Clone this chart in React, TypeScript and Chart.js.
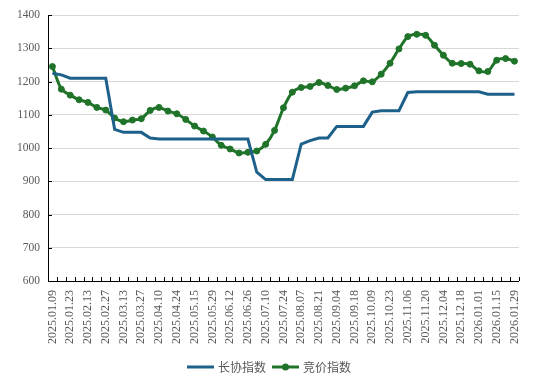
import React, { useEffect, useRef } from "react";
import { Chart, registerables } from "chart.js";

Chart.register(...registerables);

const labels: string[] = [
  "2025.01.09", "2025.01.16", "2025.01.23", "2025.02.06", "2025.02.13", "2025.02.20", "2025.02.27",
  "2025.03.06", "2025.03.13", "2025.03.20", "2025.03.27", "2025.04.03", "2025.04.10", "2025.04.17",
  "2025.04.24", "2025.05.08", "2025.05.15", "2025.05.22", "2025.05.29", "2025.06.05", "2025.06.12",
  "2025.06.19", "2025.06.26", "2025.07.03", "2025.07.10", "2025.07.17", "2025.07.24", "2025.07.31",
  "2025.08.07", "2025.08.14", "2025.08.21", "2025.08.28", "2025.09.04", "2025.09.11", "2025.09.18",
  "2025.09.25", "2025.10.09", "2025.10.16", "2025.10.23", "2025.10.30", "2025.11.06", "2025.11.13",
  "2025.11.20", "2025.11.27", "2025.12.04", "2025.12.11", "2025.12.18", "2025.12.25", "2026.01.01",
  "2026.01.08", "2026.01.15", "2026.01.22", "2026.01.29",
];

const contractIndex: number[] = [
  1225, 1220, 1210, 1210, 1210, 1210, 1210, 1056, 1047, 1047, 1047, 1030, 1027, 1027,
  1027, 1027, 1027, 1027, 1027, 1027, 1027, 1027, 1027, 927, 905, 905, 905, 905,
  1012, 1022, 1030, 1030, 1065, 1065, 1065, 1065, 1108, 1112, 1112, 1112, 1167, 1169,
  1169, 1169, 1169, 1169, 1169, 1169, 1169, 1162, 1162, 1162, 1162,
];

const auctionIndex: number[] = [
  1245, 1177, 1159, 1145, 1137, 1122, 1114, 1090, 1079, 1084, 1088, 1113, 1122, 1111,
  1103, 1086, 1066, 1051, 1033, 1008, 997, 985, 987, 991, 1011, 1053, 1121, 1168,
  1182, 1185, 1197, 1188, 1176, 1180, 1187, 1202, 1199, 1222, 1255, 1298, 1335, 1342,
  1339, 1309, 1279, 1255, 1254, 1252, 1232, 1230, 1264, 1269, 1261,
];

const seriesNames: string[] = ["长协指数", "竞价指数"];
const seriesColors: string[] = ["#1d6089", "#1f7429"];

const yMin = 600;
const yMax = 1400;
const yStep = 100;

const serifFamily = "'Liberation Serif', 'Times New Roman', Times, serif";

const innerTicksPlugin = {
  id: "innerTicks",
  beforeDatasetsDraw(chart: any) {
    const { ctx, chartArea } = chart;
    const y = chart.scales.y;
    ctx.save();
    ctx.strokeStyle = "#000000";
    ctx.lineWidth = 1;
    const n = labels.length;
    const w = (chartArea.right - chartArea.left) / n;
    ctx.beginPath();
    for (let i = 0; i <= n; i++) {
      const px = Math.round(chartArea.left + i * w) + 0.5;
      ctx.moveTo(px, chartArea.bottom);
      ctx.lineTo(px, chartArea.bottom - 4);
    }
    for (let v = yMin; v <= yMax; v += yStep) {
      const py = Math.round(y.getPixelForValue(v)) + 0.5;
      ctx.moveTo(chartArea.left, py);
      ctx.lineTo(chartArea.left + 4, py);
    }
    ctx.stroke();
    ctx.restore();
  },
};

const customLegendPlugin = {
  id: "customLegend",
  afterDraw(chart: any) {
    const { ctx, width } = chart;
    ctx.save();
    ctx.font = "12px 'Noto Sans CJK SC', 'Noto Sans', sans-serif";
    ctx.textBaseline = "middle";
    const lineW = 27;
    const gapText = 4;
    const gapItem = 6;
    const yc = 367;
    const widths = seriesNames.map((s) => lineW + gapText + ctx.measureText(s).width);
    const total = widths.reduce((a, b) => a + b, 0) + gapItem * (widths.length - 1);
    let x = (width - total) / 2;
    seriesNames.forEach((name, i) => {
      ctx.strokeStyle = seriesColors[i];
      ctx.lineWidth = 3;
      ctx.beginPath();
      ctx.moveTo(x, yc);
      ctx.lineTo(x + lineW, yc);
      ctx.stroke();
      if (i === 1) {
        ctx.fillStyle = seriesColors[i];
        ctx.beginPath();
        ctx.arc(x + lineW / 2, yc, 3.5, 0, Math.PI * 2);
        ctx.fill();
      }
      ctx.fillStyle = "#595959";
      ctx.textAlign = "left";
      ctx.fillText(name, x + lineW + gapText, yc + 0.5);
      x += widths[i] + gapItem;
    });
    ctx.restore();
  },
};

export default function App() {
  const canvasRef = useRef<HTMLCanvasElement | null>(null);

  useEffect(() => {
    if (!canvasRef.current) return;
    const chart = new Chart(canvasRef.current, {
      type: "line",
      data: {
        labels,
        datasets: [
          {
            label: seriesNames[0],
            data: contractIndex,
            borderColor: seriesColors[0],
            backgroundColor: seriesColors[0],
            borderWidth: 3,
            pointRadius: 0,
            pointHoverRadius: 0,
            tension: 0,
          },
          {
            label: seriesNames[1],
            data: auctionIndex,
            borderColor: seriesColors[1],
            backgroundColor: seriesColors[1],
            borderWidth: 3,
            pointRadius: 3,
            pointBorderWidth: 1,
            pointBackgroundColor: seriesColors[1],
            pointBorderColor: seriesColors[1],
            tension: 0.25,
          },
        ],
      },
      options: {
        animation: false,
        responsive: false,
        maintainAspectRatio: false,
        layout: { padding: { top: 15, right: 15, left: 9, bottom: 34 } },
        plugins: {
          legend: { display: false },
          tooltip: { enabled: false },
        },
        scales: {
          x: {
            offset: true,
            grid: { display: true, drawOnChartArea: false, drawTicks: false, offset: true },
            border: { display: true, color: "#000000", width: 1 },
            ticks: {
              autoSkip: false,
              minRotation: 90,
              maxRotation: 90,
              padding: 9,
              color: "#595959",
              font: { family: serifFamily, size: 12 },
              callback: (_v: any, i: number) => (i % 2 === 0 ? labels[i] : ""),
            },
          },
          y: {
            min: yMin,
            max: yMax,
            grid: { color: "#d9d9d9", lineWidth: 1, drawTicks: false },
            border: { display: true, color: "#000000", width: 1 },
            ticks: {
              stepSize: yStep,
              padding: 8,
              color: "#595959",
              font: { family: serifFamily, size: 11.5 },
              callback: (v: any) => String(v),
            },
          },
        },
      },
      plugins: [innerTicksPlugin, customLegendPlugin],
    });
    return () => chart.destroy();
  }, []);

  return (
    <div style={{ position: "fixed", left: 0, top: 0, width: 538, height: 387, background: "#ffffff" }}>
      <canvas ref={canvasRef} width={538} height={387} style={{ width: 538, height: 387 }} />
    </div>
  );
}
